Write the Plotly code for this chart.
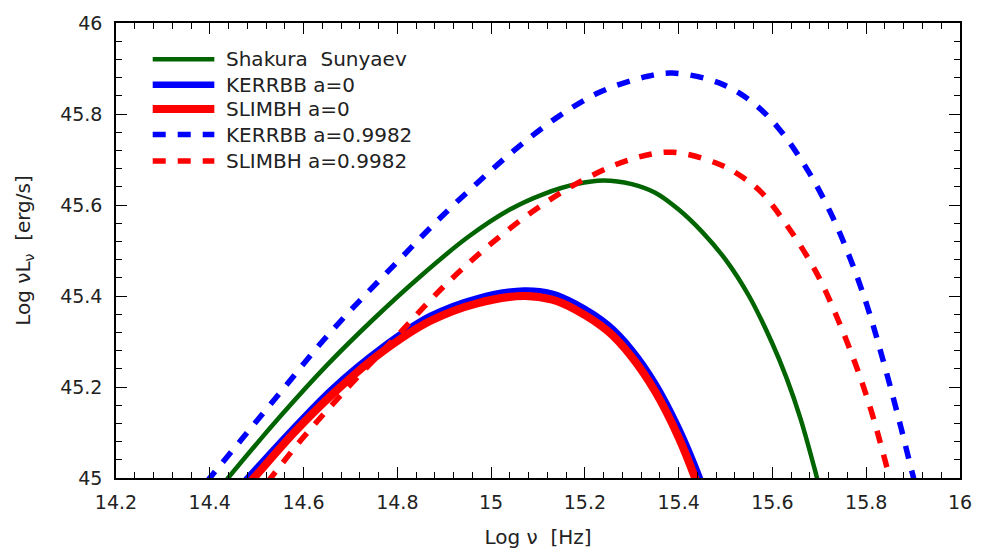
import plotly.graph_objects as go

# Disk spectra: log frequency [Hz] vs log nu*L_nu [erg/s]
ss_x = [14.40, 14.439, 14.55, 14.65, 14.75, 14.85, 14.95, 15.04, 15.112, 15.182, 15.239,
        15.30, 15.35, 15.40, 15.45, 15.50, 15.55, 15.60, 15.63, 15.66, 15.69, 15.695, 15.71]
ss_y = [44.95, 45.0, 45.135, 45.248, 45.35, 45.444, 45.529, 45.59, 45.624, 45.646, 45.654,
        45.646, 45.627, 45.59, 45.541, 45.48, 45.40, 45.295, 45.22, 45.13, 45.02, 45.0, 44.94]

kerr0_x = [14.437, 14.481, 14.57, 14.66, 14.765, 14.87, 14.97, 15.07, 15.13, 15.18, 15.25,
           15.30, 15.35, 15.40, 15.445, 15.462]
kerr0_y = [44.95, 45.0, 45.10, 45.195, 45.285, 45.356, 45.395, 45.412, 45.405, 45.383, 45.336,
           45.282, 45.208, 45.11, 45.0, 44.95]

slim0_x = [14.45, 14.494, 14.58, 14.668, 14.765, 14.87, 14.97, 15.07, 15.13, 15.18, 15.25,
           15.30, 15.35, 15.40, 15.435, 15.452]
slim0_y = [44.95, 45.0, 45.10, 45.19, 45.275, 45.345, 45.384, 45.40, 45.392, 45.37, 45.322,
           45.266, 45.19, 45.089, 45.0, 44.95]

kerr1_x = [14.36, 14.40, 14.48, 14.56, 14.64, 14.72, 14.80, 14.88, 14.97, 15.055, 15.14,
           15.23, 15.33, 15.387, 15.485, 15.557, 15.612, 15.673, 15.724, 15.766, 15.802,
           15.831, 15.858, 15.878, 15.896, 15.901, 15.912]
kerr1_y = [44.95, 45.0, 45.10, 45.20, 45.30, 45.39, 45.475, 45.56, 45.648, 45.725, 45.792,
           45.847, 45.882, 45.89, 45.869, 45.826, 45.77, 45.68, 45.583, 45.482, 45.378,
           45.277, 45.175, 45.095, 45.02, 45.0, 44.95]

slim1_x = [14.49, 14.53, 14.60, 14.70, 14.80, 14.90, 15.00, 15.10, 15.20, 15.30, 15.387,
           15.485, 15.535, 15.578, 15.641, 15.696, 15.739, 15.779, 15.81, 15.832, 15.85, 15.862]
slim1_y = [44.948, 45.0, 45.09, 45.205, 45.313, 45.422, 45.515, 45.594, 45.657, 45.701, 45.716,
           45.69, 45.662, 45.626, 45.54, 45.447, 45.35, 45.245, 45.15, 45.07, 45.0, 44.95]

names = ["Shakura\u00a0 Sunyaev", "KERRBB a=0", "SLIMBH a=0", "KERRBB a=0.9982", "SLIMBH a=0.9982"]

x_ticks = [14.2, 14.4, 14.6, 14.8, 15.0, 15.2, 15.4, 15.6, 15.8, 16.0]
x_labels = ["14.2", "14.4", "14.6", "14.8", "15", "15.2", "15.4", "15.6", "15.8", "16"]
y_ticks = [45.0, 45.2, 45.4, 45.6, 45.8, 46.0]
y_labels = ["45", "45.2", "45.4", "45.6", "45.8", "46"]

DASH = "13px,12px"
styles = [
    dict(color="#006400", width=4.5, dash="solid"),
    dict(color="#0000ff", width=6.5, dash="solid"),
    dict(color="#ff0000", width=8, dash="solid"),
    dict(color="#0000ff", width=5.5, dash=DASH),
    dict(color="#ff0000", width=5.5, dash=DASH),
]
series = [(ss_x, ss_y), (kerr0_x, kerr0_y), (slim0_x, slim0_y), (kerr1_x, kerr1_y), (slim1_x, slim1_y)]

FONT = "DejaVu Sans"
TXT = "#222222"

fig = go.Figure()
for (xs, ys), nm, st in zip(series, names, styles):
    fig.add_trace(go.Scatter(x=xs, y=ys, mode="lines", name=nm, showlegend=False,
                             line=dict(shape="spline", smoothing=1.0, **st)))

# Legend block drawn in paper coordinates (top-left of the axes box)
leg_x0, leg_x1, leg_tx = 0.0435, 0.1165, 0.1285
leg_y = [0.9204, 0.8645, 0.8108, 0.7548, 0.6968]
for nm, st, yy in zip(names, styles, leg_y):
    fig.add_shape(type="line", xref="paper", yref="paper", x0=leg_x0, x1=leg_x1, y0=yy, y1=yy,
                  line=dict(color=st["color"], width=st["width"], dash=st["dash"]))
    fig.add_annotation(xref="paper", yref="paper", x=leg_tx, y=yy, text=nm, showarrow=False,
                       xanchor="left", yanchor="middle", font=dict(family=FONT, size=20, color=TXT))

axis_common = dict(
    showline=True, linecolor="black", linewidth=1.5, mirror="ticks",
    ticks="inside", ticklen=11, tickwidth=1.2, tickcolor="black",
    showgrid=False, zeroline=False,
    tickfont=dict(family=FONT, size=19, color=TXT),
)

fig.update_xaxes(range=[14.2, 16.0], tickvals=x_ticks, ticktext=x_labels,
                 minor=dict(ticks="inside", ticklen=6, tickwidth=1.0, tickcolor="black",
                            dtick=0.04, tick0=14.2, showgrid=False),
                 title=dict(text="Log ν\u00a0 [Hz]", font=dict(family=FONT, size=20, color=TXT), standoff=18),
                 ticklabelstandoff=6, **axis_common)
fig.update_yaxes(range=[45.0, 46.0], tickvals=y_ticks, ticktext=y_labels,
                 minor=dict(ticks="inside", ticklen=6, tickwidth=1.0, tickcolor="black",
                            dtick=0.04, tick0=45.0, showgrid=False),
                 title=dict(text="Log νL<sub>ν</sub>\u00a0 [erg/s]", font=dict(family=FONT, size=20, color=TXT), standoff=24),
                 ticklabelstandoff=8, **axis_common)

fig.update_layout(
    width=984, height=557,
    margin=dict(l=116, r=18, t=16, b=76),
    paper_bgcolor="white", plot_bgcolor="white",
    showlegend=False,
)

fig.write_html("out.html")
